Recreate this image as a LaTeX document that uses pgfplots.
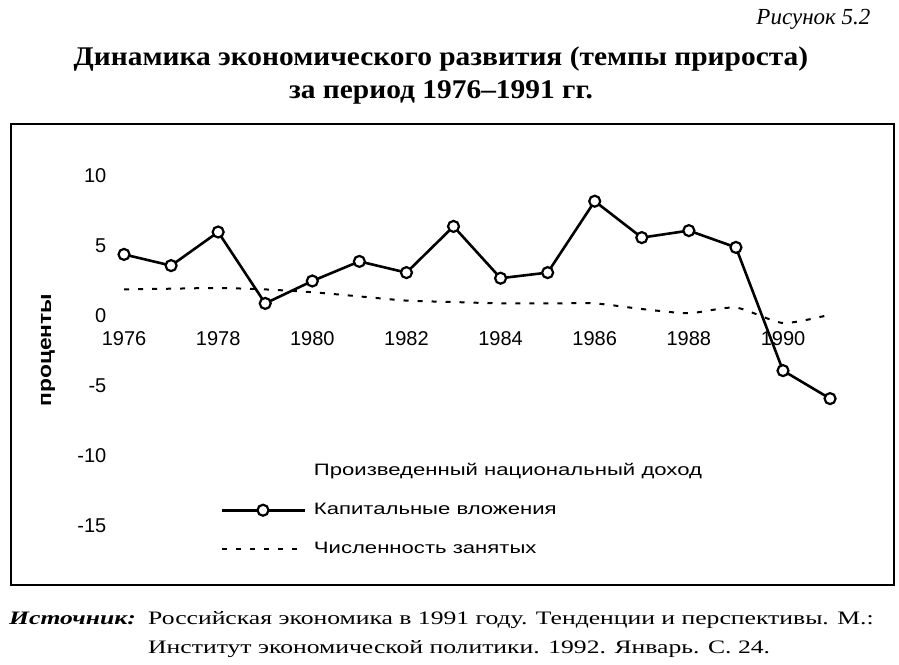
\documentclass[border=0pt]{standalone}
\usepackage{pgfplots}
\pgfplotsset{compat=1.18}
\usepackage{fontspec}
\setmainfont{Liberation Serif}
\newfontfamily\arial{Liberation Sans}
\newfontfamily\arialwide[FakeStretch=1.34]{Liberation Sans}
\newfontfamily\arialylab[FakeStretch=1.2]{Liberation Sans}
\newfontfamily\timestitle[FakeStretch=1.09]{Liberation Serif}
\newfontfamily\timessrc[FakeStretch=1.35]{Liberation Serif}

\begin{document}
\begin{tikzpicture}
\useasboundingbox (0pt,0pt) rectangle (899pt,-664pt);

% headings
\node[anchor=east, font=\itshape\fontsize{23}{26}\selectfont] at (874pt,-19pt) {Рисунок 5.2};
\node[anchor=base, font=\timestitle\bfseries\fontsize{27}{30}\selectfont] at (441pt,-65pt) {Динамика экономического развития (темпы прироста)};
\node[anchor=base, font=\timestitle\bfseries\fontsize{27}{30}\selectfont] at (441pt,-98pt) {за период 1976–1991 гг.};

% frame
\draw[line width=2pt] (11pt,-124pt) rectangle (894pt,-585pt);

% y label
\node[rotate=90, font=\arialylab\bfseries\fontsize{19}{21}\selectfont] at (48pt,-350pt) {проценты};

\begin{axis}[
  at={(109.9pt,-540pt)}, anchor=south west,
  x=47.07pt, y=14pt,
  xmin=1975.7, xmax=1991.5, ymin=-16, ymax=11,
  axis x line=middle, axis y line=left,
  axis line style={draw=none,-},
  major tick length=0pt,
  clip=false,
  xtick={1976,1978,...,1990},
  ytick={-15,-10,-5,0,5,10},
  x tick label style={/pgf/number format/1000 sep={}, yshift=-12pt},
  ticklabel style={font=\arial\fontsize{20}{22}\selectfont},
  /pgf/number format/assume math mode=true,
  legend style={draw=none, fill=none, at={(axis cs:1978.05,-10.5)}, anchor=north west,
    font=\arialwide\fontsize{16.5}{19}\selectfont, row sep=23pt, column sep=7.6pt,
    inner sep=0pt, nodes={inner sep=0pt, text height=12pt, text depth=4pt}},
  legend cell align=left,
  legend image code/.code={\draw[mark repeat=2,mark phase=2,#1] plot coordinates {(0pt,0pt) (41pt,0pt) (83pt,0pt)};},
]
\addlegendimage{empty legend}
\addlegendentry{Произведенный национальный доход}

% capital investment
\addplot[black, line width=2.6pt, mark=*, mark size=5.5pt, mark options={fill=white, draw=black, line width=2.2pt}] coordinates {
(1976,4.4) (1977,3.6) (1978,6.0) (1979,0.9) (1980,2.5) (1981,3.9) (1982,3.1) (1983,6.4)
(1984,2.7) (1985,3.1) (1986,8.2) (1987,5.6) (1988,6.1) (1989,4.9) (1990,-3.9) (1991,-5.9)
};
\addlegendentry{Капитальные вложения}

% employment
\addplot[black, line width=2pt, dash pattern=on 5pt off 9pt, smooth, tension=0.4] coordinates {
(1976,1.9) (1977,1.95) (1978,2.0) (1979,1.9) (1980,1.7) (1981,1.4) (1982,1.1) (1983,1.0)
(1984,0.9) (1985,0.9) (1986,0.9) (1987,0.5) (1988,0.2) (1989,0.6) (1990,-0.5) (1991,0.1)
};
\addlegendentry{Численность занятых}
\end{axis}

% source
\node[anchor=base west, inner sep=0pt, font=\timessrc\bfseries\itshape\fontsize{19}{22}\selectfont] at (9pt,-624pt) {Источник:};
\node[anchor=base west, inner sep=0pt, font=\timessrc\fontsize{19}{22}\selectfont] at (148pt,-624pt) {Российская экономика в 1991 году. Тенденции и перспективы. М.:};
\node[anchor=base west, inner sep=0pt, font=\timessrc\fontsize{19}{22}\selectfont] at (148pt,-653pt) {Институт экономической политики. 1992. Январь. С. 24.};
\end{tikzpicture}
\end{document}
